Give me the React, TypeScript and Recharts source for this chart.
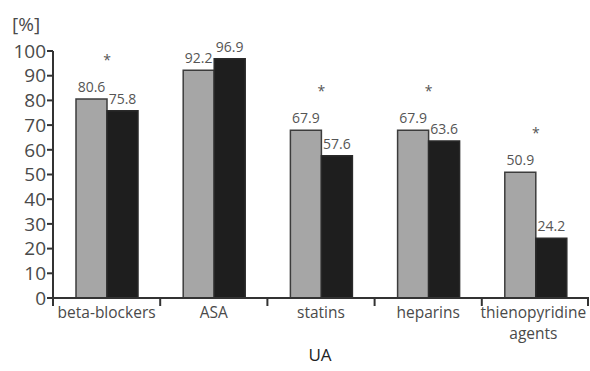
import React from 'react'
import { BarChart, Bar, XAxis, YAxis, LabelList } from 'recharts'

const categories = ['beta-blockers', 'ASA', 'statins', 'heparins', 'thienopyridine agents']
const greyValues = [80.6, 92.2, 67.9, 67.9, 50.9]
const blackValues = [75.8, 96.9, 57.6, 63.6, 24.2]
const significant = [true, false, true, true, true]
const yTicks = [0, 10, 20, 30, 40, 50, 60, 70, 80, 90, 100]

const data = categories.map((name, i) => ({
  name,
  grey: greyValues[i],
  black: blackValues[i],
  star: significant[i],
}))

const W = 590
const H = 371
const margin = { top: 51, right: 1, bottom: 28, left: 8 }
const yAxisWidth = 45
const band = (W - margin.left - margin.right - yAxisWidth) / categories.length

const FONT = '"Open Sans", "Noto Sans", sans-serif'
const TEXT = '#4a4a4a'
const AXIS = '#333'

// tick y arrives already shifted by tickSize + tickMargin
const TICK_SHIFT = 8

function CategoryTick(props: any) {
  const { x, y, payload, index } = props
  const axisY = y - TICK_SHIFT
  const last = index === categories.length - 1
  const lines = payload.value === 'thienopyridine agents' ? ['thienopyridine', 'agents'] : [payload.value]
  const left = x - band / 2
  const tx = x - (last ? 2 : 0)
  return (
    <g>
      <line x1={left} y1={axisY} x2={left} y2={axisY + 8} stroke={AXIS} strokeWidth={2} />
      {last && (
        <line x1={left + band - 1} y1={axisY} x2={left + band - 1} y2={axisY + 8} stroke={AXIS} strokeWidth={2} />
      )}
      <text x={tx} y={axisY + 20} textAnchor="middle" fontFamily={FONT} fontSize={15.5} fill={TEXT}>
        {lines.map((l, i) => (
          <tspan key={i} x={tx} dy={i === 0 ? 0 : 21}>
            {l}
          </tspan>
        ))}
      </text>
    </g>
  )
}

function ValueLabel(props: any) {
  const { x, y, width, value } = props
  return (
    <text x={x + width / 2} y={y - 7} textAnchor="middle" fontFamily={FONT} fontSize={14} fill="#555">
      {value}
    </text>
  )
}

function StarLabel(props: any) {
  const { x, y, width, index } = props
  if (!significant[index]) return null
  return (
    <text x={x + width} y={y - 34} textAnchor="middle" fontFamily={FONT} fontSize={14} fill="#555">
      *
    </text>
  )
}

export default function App() {
  return (
    <div style={{ position: 'fixed', left: 0, top: 0, width: W, height: H, background: '#fff' }}>
      <div
        style={{
          position: 'absolute',
          left: 12,
          top: 11,
          fontFamily: FONT,
          fontSize: 19,
          color: TEXT,
        }}
      >
        [%]
      </div>
      <BarChart width={W} height={H} data={data} margin={margin} barGap={0} barSize={31} style={{ overflow: 'visible' }}>
        <XAxis
          dataKey="name"
          height={45}
          axisLine={{ stroke: AXIS, strokeWidth: 2 }}
          tickLine={false}
          interval={0}
          tick={<CategoryTick />}
        />
        <YAxis
          width={yAxisWidth}
          domain={[0, 100]}
          ticks={yTicks}
          interval={0}
          tickSize={6}
          tickMargin={1}
          axisLine={{ stroke: AXIS, strokeWidth: 2 }}
          tickLine={{ stroke: AXIS, strokeWidth: 2 }}
          tick={{ fontFamily: FONT, fontSize: 19, fill: TEXT }}
        />
        <Bar dataKey="grey" fill="#a6a6a6" stroke="#3c3c3c" strokeWidth={1.5} isAnimationActive={false}>
          <LabelList dataKey="grey" content={<ValueLabel />} />
          <LabelList dataKey="grey" content={<StarLabel />} />
        </Bar>
        <Bar dataKey="black" fill="#1e1e1e" stroke="#2a2a2a" strokeWidth={1.5} isAnimationActive={false}>
          <LabelList dataKey="black" content={<ValueLabel />} />
        </Bar>
      </BarChart>
      <div
        style={{
          position: 'absolute',
          left: 0,
          width: W,
          top: 343,
          textAlign: 'center',
          fontFamily: FONT,
          fontSize: 17,
          color: '#222',
          paddingLeft: 50,
          boxSizing: 'border-box',
        }}
      >
        UA
      </div>
    </div>
  )
}
